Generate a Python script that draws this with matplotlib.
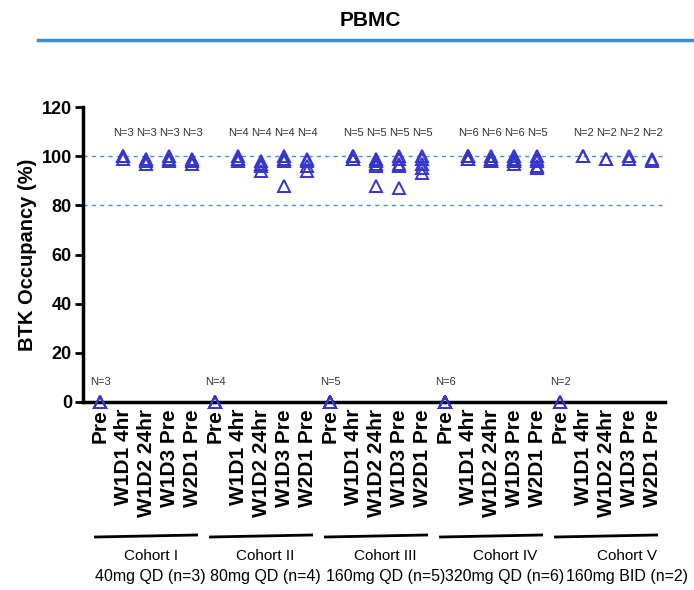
import matplotlib
matplotlib.use("Agg")
import matplotlib.pyplot as plt
from matplotlib.lines import Line2D
import matplotlib.transforms as mtransforms

plt.rcParams['font.family'] = ['Liberation Sans', 'DejaVu Sans']

# ---- data ----
categories = ["Pre", "W1D1 4hr", "W1D2 24hr", "W1D3 Pre", "W2D1 Pre"] * 5

values = [
    # Cohort I
    [0, 0, 0],
    [100, 100, 99],
    [99, 98, 97],
    [100, 99, 98],
    [99, 98, 97],
    # Cohort II
    [0, 0, 0, 0],
    [100, 99, 99, 98],
    [98, 97, 96, 94],
    [100, 99, 98, 88],
    [99, 98, 96, 94],
    # Cohort III
    [0, 0, 0, 0, 0],
    [100, 100, 99, 99, 99],
    [99, 98, 97, 96, 88],
    [100, 99, 97, 96, 87],
    [100, 99, 97, 95, 93],
    # Cohort IV
    [0, 0, 0, 0, 0, 0],
    [100, 100, 100, 99, 99, 99],
    [100, 99, 99, 98, 98, 98],
    [100, 99, 99, 98, 98, 97],
    [100, 99, 98, 96, 95],
    # Cohort V
    [0, 0],
    [100, 100],
    [99, 99],
    [100, 99],
    [99, 98],
]

n_labels = ["N=3"] * 5 + ["N=4"] * 5 + ["N=5"] * 5 + ["N=6", "N=6", "N=6", "N=6", "N=5"] + ["N=2"] * 5

cohort_names = ["Cohort I", "Cohort II", "Cohort III", "Cohort IV", "Cohort V"]
cohort_doses = ["40mg QD (n=3)", "80mg QD (n=4)", "160mg QD (n=5)", "320mg QD (n=6)", "160mg BID (n=2)"]
cohort_text_x = [2.2, 7.2, 12.4, 17.6, 22.9]

ref_lines = [100, 80]
yticks = [0, 20, 40, 60, 80, 100, 120]

# ---- figure ----
W, H = 694, 590
fig = plt.figure(figsize=(W / 100, H / 100), dpi=100)
ax = fig.add_axes([83 / W, 1 - 402 / H, (665 - 83) / W, (402 - 107) / H])

mcolor = '#3535d0'
for i, vals in enumerate(values):
    ax.plot([i] * len(vals), vals, linestyle='none', marker='^', markersize=8,
            markerfacecolor='none', markeredgecolor=mcolor, markeredgewidth=1.4,
            clip_on=False, zorder=5)

for y in ref_lines:
    ax.axhline(y, color='#4a90d9', linestyle=(0, (3, 3)), linewidth=1.0, zorder=1)

# N labels
for i, lab in enumerate(n_labels):
    yv = 8 if i % 5 == 0 else 109.5
    ax.text(i, yv, lab, ha='center', va='center', fontsize=8, color='#333333')

ax.set_xlim(-0.74, 24.56)
ax.set_ylim(0, 120)
ax.set_yticks(yticks)
ax.set_yticklabels([str(t) for t in yticks], fontsize=13, fontweight='bold')
ax.set_xticks(range(len(categories)))
ax.set_xticklabels(categories, rotation=90, fontsize=15, fontweight='bold', va='top')

for s in ['top', 'right']:
    ax.spines[s].set_visible(False)
for s in ['left', 'bottom']:
    ax.spines[s].set_linewidth(2.5)
ax.tick_params(axis='y', length=6, width=2, pad=2)
ax.tick_params(axis='x', length=0, pad=5)

# Cohort brackets and labels
trans = mtransforms.blended_transform_factory(ax.transData, fig.transFigure)
for c in range(5):
    x0 = c * 5 - 0.2
    x1 = c * 5 + 4.2
    ax.add_line(Line2D([x0, x1], [1 - 537 / H, 1 - 535 / H], transform=trans,
                       color='black', linewidth=2, clip_on=False))
    ax.text(cohort_text_x[c], 1 - 556 / H, cohort_names[c], transform=trans,
            ha='center', va='center', fontsize=11, clip_on=False)
    ax.text(cohort_text_x[c], 1 - 577 / H, cohort_doses[c], transform=trans,
            ha='center', va='center', fontsize=11.5, clip_on=False)

# y label
fig.text(28 / W, 1 - 255 / H, "BTK Occupancy (%)", rotation=90, ha='center', va='center',
         fontsize=14.5, fontweight='bold')

# title and rule
fig.text(370 / W, 1 - 20 / H, "PBMC", ha='center', va='center', fontsize=15, fontweight='bold')
fig.add_artist(Line2D([38 / W, 1.0], [1 - 40 / H, 1 - 40 / H], transform=fig.transFigure,
                      color='#3a8fd0', linewidth=2.5))

fig.savefig("out.png", dpi=100)
